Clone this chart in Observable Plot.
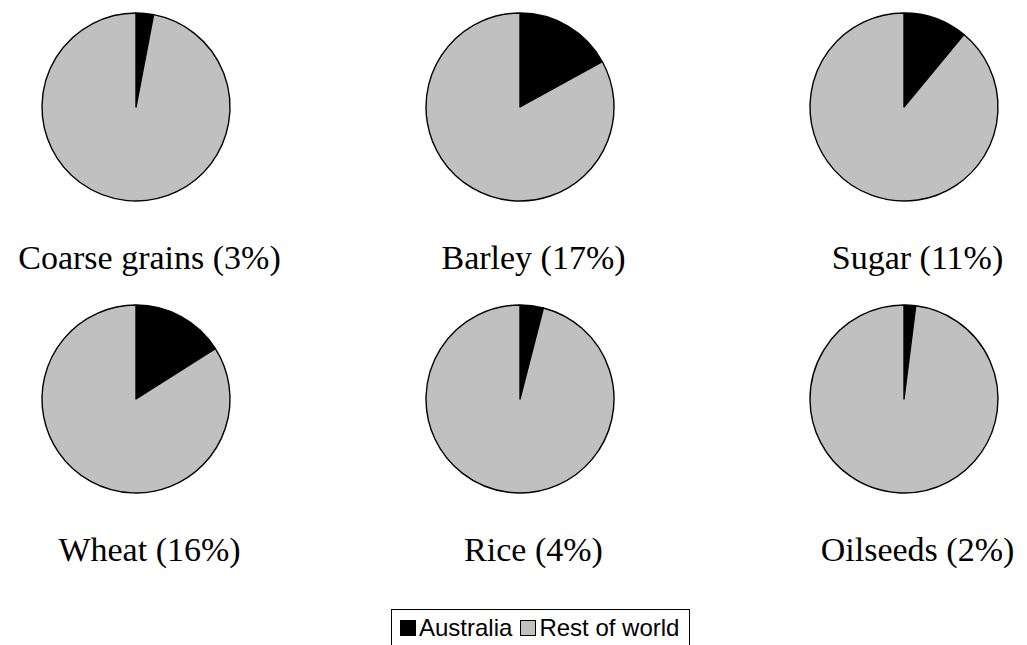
<!DOCTYPE html>
<html>
<head>
<meta charset="utf-8">
<script src="https://cdn.jsdelivr.net/npm/d3@7"></script>
<script src="https://cdn.jsdelivr.net/npm/@observablehq/plot@0.6"></script>
<style>
  html, body { margin: 0; padding: 0; background: #fff; }
  #wrap { position: relative; width: 1027px; height: 645px; overflow: hidden; }
  #legend {
    position: absolute; top: 609px;
    border: 1px solid #000; background: #fff;
    font-family: "Liberation Sans", Arial, sans-serif; font-size: 24px;
    display: flex; align-items: center; white-space: nowrap;
    padding: 4px 10px 20px 8px; line-height: 28px;
  }
  #legend .item { display: flex; align-items: center; margin-right: 8px; }
  #legend .item:last-child { margin-right: 0; }
  #legend .sw { width: 14px; height: 14px; border: 1px solid #000; margin-right: 3px; }
</style>
</head>
<body>
<div id="wrap"></div>
<script>
// ---- data ----
const crops = ["Coarse grains", "Barley", "Sugar", "Wheat", "Rice", "Oilseeds"];
const australiaShare = [3, 17, 11, 16, 4, 2]; // % of world total
const seriesNames = ["Australia", "Rest of world"];
const seriesColors = ["#000000", "#c0c0c0"];
const columns = [0, 1, 2];
const rows = [0, 1];

// table built from the arrays
const slices = crops.flatMap((crop, i) => [
  {crop, series: seriesNames[0], value: australiaShare[i], col: i % 3, row: Math.floor(i / 3)},
  {crop, series: seriesNames[1], value: 100 - australiaShare[i], col: i % 3, row: Math.floor(i / 3)}
]);
const labels = crops.map((crop, i) => ({
  crop, col: i % 3, row: Math.floor(i / 3),
  text: `${crop} (${australiaShare[i]}%)`
}));

const R = 94;

const chart = Plot.plot({
  width: 1027,
  height: 605,
  margin: 0,
  x: {type: "point", domain: columns, range: [136, 904], padding: 0, axis: null},
  y: {type: "point", domain: rows, range: [107, 399], padding: 0, axis: null},
  color: {domain: seriesNames, range: seriesColors},
  marks: [
    Plot.dot(slices, {
      x: "col", y: "row", fill: "series",
      render(index, scales, values) {
        const g = d3.create("svg:g");
        const arc = d3.arc().innerRadius(0).outerRadius(R);
        const byCrop = d3.group(index, i => slices[i].crop);
        for (const [, idx] of byCrop) {
          const total = d3.sum(idx, i => slices[i].value);
          let a = 0;
          for (const i of idx) {
            const a1 = a + slices[i].value / total * 2 * Math.PI;
            g.append("path")
              .attr("transform", `translate(${values.x[i]},${values.y[i]})`)
              .attr("d", arc({startAngle: a, endAngle: a1}))
              .attr("fill", values.fill[i])
              .attr("stroke", "#000")
              .attr("stroke-width", 1.4)
              .attr("stroke-linejoin", "round");
            a = a1;
          }
        }
        return g.node();
      }
    }),
    Plot.text(labels, {
      x: "col", y: "row", text: "text",
      dy: 151, dx: 13,
      fontSize: 34, fontFamily: "'Liberation Serif', 'Times New Roman', serif",
      fill: "#000"
    })
  ]
});

const wrap = document.getElementById("wrap");
wrap.appendChild(chart);

// legend
const legend = document.createElement("div");
legend.id = "legend";
seriesNames.forEach((name, k) => {
  const item = document.createElement("div");
  item.className = "item";
  const sw = document.createElement("div");
  sw.className = "sw";
  sw.style.background = seriesColors[k];
  const t = document.createElement("span");
  t.textContent = name;
  item.appendChild(sw);
  item.appendChild(t);
  legend.appendChild(item);
});
wrap.appendChild(legend);
legend.style.left = (690 - legend.offsetWidth) + "px";
</script>
</body>
</html>
